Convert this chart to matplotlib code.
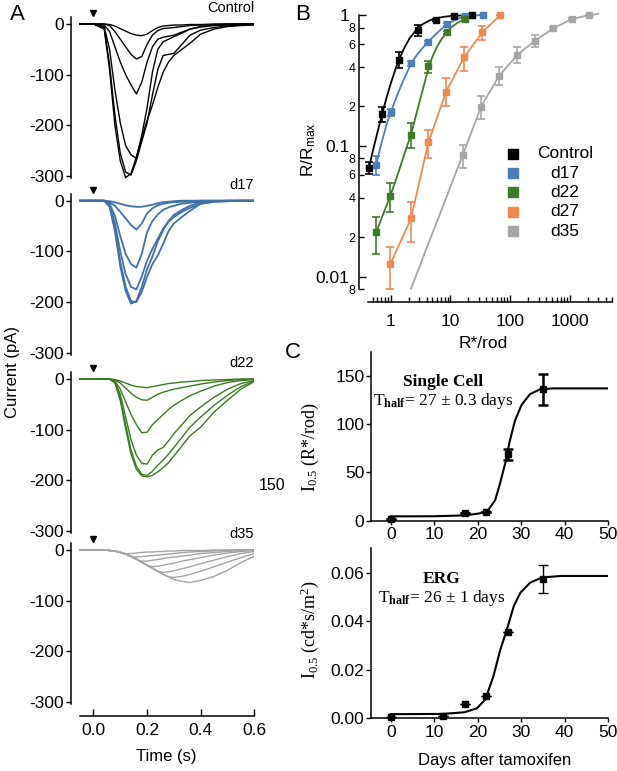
import matplotlib
matplotlib.use('Agg')
import matplotlib.pyplot as plt
from matplotlib.ticker import FixedLocator, FixedFormatter, NullFormatter

W, H = 617, 771

plt.rcParams['font.family'] = ['Liberation Sans', 'DejaVu Sans']
plt.rcParams['axes.unicode_minus'] = False
plt.rcParams['mathtext.fontset'] = 'custom'
plt.rcParams['mathtext.rm'] = 'Liberation Serif'
plt.rcParams['mathtext.it'] = 'Liberation Serif:italic'
plt.rcParams['mathtext.bf'] = 'Liberation Serif:bold'
plt.rcParams['mathtext.sf'] = 'Liberation Sans'

# ---- panel A: photocurrent traces (pA) ----
t_s = [-0.05, 0.00, 0.04, 0.06, 0.08, 0.10, 0.12, 0.14, 0.16, 0.18, 0.20, 0.22,
       0.24, 0.26, 0.28, 0.30, 0.33, 0.36, 0.40, 0.45, 0.50, 0.55, 0.60]

control_traces = [
    [0, 0, 0, -1, -4, -9, -14, -19, -22, -23, -20, -13, -7, -4, -3, -2, -2, -1, -1, 0, 0, 0, 0],
    [0, 0, 0, -3, -15, -30, -45, -60, -69, -64, -40, -22, -13, -9, -8, -7, -5, -3, -2, -1, 0, 0, 0],
    [0, 0, -2, -15, -45, -75, -100, -120, -138, -115, -75, -45, -30, -26, -24, -22, -16, -10, -6, -3, -2, -1, 0],
    [0, 0, -5, -50, -130, -195, -240, -258, -265, -220, -165, -95, -50, -35, -30, -25, -18, -10, -5, -2, -1, 0, 0],
    [0, 0, -8, -80, -180, -255, -292, -298, -270, -232, -195, -140, -90, -62, -60, -58, -40, -22, -12, -7, -4, -2, -1],
    [0, 0, -10, -90, -200, -270, -303, -295, -262, -225, -190, -160, -125, -95, -75, -62, -50, -38, -20, -10, -5, -3, -2],
]
d17_traces = [
    [0, 0, 0, -1, -3, -6, -9, -11, -12, -12, -10, -8, -5, -3, -2, -1, 0, 0, 0, 0, 0, 0, 0],
    [0, 0, 0, -3, -10, -22, -35, -48, -57, -45, -25, -15, -9, -6, -4, -3, -2, -1, 0, 0, 0, 0, 0],
    [0, 0, 0, -6, -30, -70, -105, -125, -132, -105, -62, -40, -27, -18, -13, -10, -6, -4, -2, -1, 0, 0, 0],
    [0, 0, 0, -8, -45, -100, -145, -170, -175, -150, -118, -95, -75, -55, -42, -32, -22, -14, -6, -2, -1, 0, 0],
    [0, 0, 0, -10, -55, -120, -170, -198, -200, -180, -150, -125, -108, -85, -60, -45, -32, -20, -6, -2, -1, 0, 0],
    [0, 0, 0, -12, -60, -130, -178, -203, -198, -170, -135, -110, -80, -58, -40, -28, -18, -10, -3, -1, 0, 0, 0],
]
d22_traces = [
    [0, 0, 0, 0, -1, -4, -8, -12, -15, -16, -17, -15, -13, -11, -9, -8, -6, -5, -3, -2, -1, 0, 0],
    [0, 0, 0, 0, -2, -8, -18, -28, -36, -41, -42, -36, -30, -26, -23, -20, -17, -14, -10, -6, -3, -1, 0],
    [0, 0, 0, 0, -4, -20, -45, -70, -90, -106, -105, -90, -80, -70, -60, -52, -42, -33, -24, -14, -7, -3, -1],
    [0, 0, 0, 0, -6, -30, -75, -120, -150, -166, -168, -150, -140, -135, -122, -108, -90, -72, -55, -36, -20, -9, -3],
    [0, 0, 0, 0, -7, -38, -90, -140, -172, -188, -190, -182, -170, -160, -148, -135, -115, -95, -75, -52, -32, -15, -4],
    [0, 0, 0, 0, -8, -42, -98, -148, -178, -191, -193, -190, -183, -175, -165, -152, -132, -112, -95, -65, -42, -20, -5],
]
d35_traces = [
    [0, 0, 0, -1, -2, -4, -7, -7, -6, -5, -4, -4, -3, -3, -2, -2, -1, -1, -1, 0, 0, 0, 0],
    [0, 0, 0, -1, -2, -5, -8, -12, -14, -13, -12, -11, -10, -9, -8, -7, -5, -4, -3, -2, -1, 0, 0],
    [0, 0, 0, -1, -2, -5, -8, -13, -18, -22, -22, -20, -19, -17, -15, -14, -12, -10, -7, -5, -3, -1, 0],
    [0, 0, 0, -1, -2, -5, -8, -13, -18, -24, -30, -33, -32, -30, -28, -26, -22, -19, -15, -10, -6, -3, -1],
    [0, 0, 0, -1, -2, -5, -8, -13, -18, -24, -30, -36, -42, -44, -43, -41, -37, -33, -27, -20, -13, -7, -3],
    [0, 0, 0, -1, -2, -5, -8, -13, -18, -24, -30, -36, -42, -48, -53, -54, -52, -48, -42, -33, -24, -15, -7],
    [0, 0, 0, -1, -2, -5, -8, -13, -18, -24, -30, -36, -42, -48, -53, -58, -62, -64, -60, -52, -40, -25, -12],
]
a_names = ["Control", "d17", "d22", "d35"]
a_ticks = [0, -100, -200, -300]

# ---- panel B: intensity-response, R/Rmax vs R*/rod ----
b_names = ["Control", "d17", "d22", "d27", "d35"]
b_x = [
    [0.43, 0.71, 1.39, 2.83, 5.74, 11.5, 23.3],
    [0.57, 1.0, 2.19, 4.26, 8.67, 17.6, 34.8],
    [0.57, 0.98, 2.19, 4.26, 8.67, 17.6],
    [0.98, 2.19, 4.26, 8.5, 16.9, 34.4, 68.0],
    [16.1, 32.6, 65.2, 132, 261, 530, 1075, 2122],
]
b_y = [
    [0.068, 0.175, 0.45, 0.77, 0.92, 0.99, 1.0],
    [0.071, 0.18, 0.427, 0.618, 0.85, 0.98, 1.0],
    [0.0218, 0.0413, 0.122, 0.407, 0.737, 0.93],
    [0.0124, 0.0279, 0.106, 0.26, 0.475, 0.737, 1.0],
    [0.085, 0.199, 0.342, 0.495, 0.637, 0.79, 0.93, 1.0],
]
b_err_lo = [
    [0.007, 0.022, 0.06, 0.08, 0.02, 0, 0],
    [0.011, 0.01, 0.02, 0.02, 0.02, 0, 0],
    [0.0069, 0.01, 0.026, 0.049, 0.02, 0],
    [0.0044, 0.0096, 0.026, 0.059, 0.10, 0.093, 0],
    [0.0177, 0.0395, 0.050, 0.063, 0.064, 0.02, 0.02, 0],
]
b_err_hi = [
    [0.0075, 0.022, 0.074, 0.069, 0.02, 0, 0],
    [0.012, 0.01, 0.02, 0.02, 0.02, 0, 0],
    [0.0066, 0.0104, 0.027, 0.038, 0.02, 0],
    [0.0044, 0.0091, 0.026, 0.068, 0.098, 0.087, 0],
    [0.0164, 0.0414, 0.060, 0.071, 0.066, 0.02, 0.02, 0],
]
fit_x = [
    [0.43, 0.5, 0.6, 0.71, 0.85, 1.0, 1.2, 1.39, 1.7, 2.1, 2.83, 3.5, 4.5, 5.74, 8.0, 11.5, 16.0, 23.3],
    [0.57, 0.65, 0.75, 0.87, 1.0, 1.2, 1.45, 1.75, 2.19, 2.7, 3.3, 4.26, 5.3, 6.8, 8.67, 11, 14, 17.6, 24, 34.8],
    [0.57, 0.7, 0.85, 0.98, 1.2, 1.5, 1.8, 2.19, 2.6, 3.1, 3.6, 4.26, 5.0, 6.0, 7.2, 8.67, 10.5, 13, 17.6],
    [0.98, 1.3, 1.7, 2.19, 2.7, 3.3, 4.26, 5.2, 6.5, 8.5, 11, 13.5, 16.9, 22, 28, 34.4, 45, 56, 68],
    [2.19, 3, 4.2, 6, 8.5, 12, 16.1, 22, 32.6, 45, 65.2, 90, 132, 185, 261, 370, 530, 750, 1075, 1500, 2122, 3000],
]
fit_y = [
    [0.0676, 0.0906, 0.127, 0.172, 0.233, 0.299, 0.385, 0.46, 0.565, 0.67, 0.791, 0.856, 0.909, 0.944, 0.971, 0.986, 0.993, 0.997],
    [0.071, 0.092, 0.118, 0.15, 0.18, 0.225, 0.28, 0.34, 0.425, 0.49, 0.55, 0.625, 0.69, 0.77, 0.84, 0.9, 0.945, 0.97, 0.99, 1.0],
    [0.0218, 0.0278, 0.0349, 0.0413, 0.0537, 0.0728, 0.094, 0.122, 0.165, 0.225, 0.29, 0.39, 0.48, 0.575, 0.66, 0.74, 0.81, 0.87, 0.93],
    [0.0124, 0.0165, 0.0215, 0.0279, 0.0424, 0.0633, 0.106, 0.137, 0.184, 0.26, 0.326, 0.39, 0.475, 0.56, 0.65, 0.737, 0.831, 0.918, 1.0],
    [0.0081, 0.01175, 0.0175, 0.0266, 0.0401, 0.0603, 0.085, 0.1237, 0.199, 0.256, 0.342, 0.405, 0.495, 0.561, 0.637, 0.708, 0.79, 0.856, 0.93, 0.965, 0.995, 1.02],
]

# ---- panel C: I0.5 vs days after tamoxifen ----
cell_days = [0, 17, 22, 27, 35]
cell_i05 = [1.7, 7.6, 9.3, 68.7, 136]
cell_err = [0, 0, 0, 6, 16]
cell_fit_days = [0, 10, 17, 20.5, 22.4, 24, 25.1, 26.3, 27.4, 28.6, 30.1, 32, 34.3, 37.4, 42, 50]
cell_fit_i05 = [4.5, 4.6, 5.5, 7.6, 11, 21, 38, 59, 83, 104, 120, 131, 136, 137, 137, 137]

erg_days = [0, 12, 17, 22, 27, 35]
erg_i05 = [0.0007, 0.001, 0.0058, 0.0092, 0.0356, 0.0575]
erg_err = [0, 0, 0, 0, 0, 0.0058]
erg_fit_days = [0, 12, 17, 19.8, 21.7, 23.6, 25.2, 26.7, 28.3, 29.8, 32.1, 34.8, 39, 50]
erg_fit_i05 = [0.0017, 0.0018, 0.0025, 0.0041, 0.0076, 0.0172, 0.0283, 0.0365, 0.0462, 0.0517, 0.0559, 0.058, 0.0586, 0.0586]

blue = '#3f70aa'
green = '#3c7a20'
orange = '#ef8a4e'
gray = '#a3a3a3'
a_colors = ['black', blue, green, gray]
b_colors = ['black', '#4a7ebb', '#3d7a26', orange, '#a5a5a5']

fig = plt.figure(figsize=(W / 100, H / 100), dpi=100)


def add_ax(x0, y0, x1, y1):
    # pixel box (top-left origin) -> figure fraction
    return fig.add_axes([x0 / W, 1 - y1 / H, (x1 - x0) / W, (y1 - y0) / H])


def ftext(x, y, s, **kw):
    kw.setdefault('ha', 'center')
    kw.setdefault('va', 'center')
    fig.text(x / W, 1 - y / H, s, **kw)


# panel A
zero_px = [24, 200.7, 379, 550]
px_per_pA = 0.507
all_traces = [control_traces, d17_traces, d22_traces, d35_traces]
for i in range(4):
    last = (i == 3)
    ybot = -327 if last else -310
    ax = add_ax(70.7, zero_px[i] - 15 * px_per_pA, 254.3, zero_px[i] - ybot * px_per_pA)
    lw = 1.3 if i == 1 else 1.0
    for tr in all_traces[i]:
        ax.plot(t_s, tr, color=a_colors[i], lw=lw)
    ax.set_xlim(-0.085, 0.6)
    ax.set_ylim(ybot, 15)
    for s in ['top', 'right']:
        ax.spines[s].set_visible(False)
    ax.spines['left'].set_linewidth(1.1)
    ax.spines['left'].set_bounds(-304, 14)
    ax.set_yticks(a_ticks)
    ax.set_yticklabels([str(v) for v in a_ticks])
    ax.tick_params(axis='y', direction='out', length=3.6, width=1.0, labelsize=12.5, pad=1)
    ax.plot([0], [22], 'v', color='black', ms=5, clip_on=False)
    ax.text(0.6, 31, a_names[i], ha='right', va='center', fontsize=10.5)
    if last:
        ax.spines['bottom'].set_linewidth(1.1)
        ax.spines['bottom'].set_bounds(-0.05, 0.6)
        ax.set_xticks([0, 0.2, 0.4, 0.6])
        ax.set_xticklabels(['0.0', '0.2', '0.4', '0.6'])
        ax.tick_params(axis='x', direction='in', length=5, width=1.0, labelsize=12.5, pad=5)
    else:
        ax.spines['bottom'].set_visible(False)
        ax.set_xticks([])

# panel B
axb = add_ax(359, 15, 611.7, 302.3)
axb.set_xscale('log')
axb.set_yscale('log')
for k in range(5):
    axb.plot(fit_x[k], fit_y[k], color=b_colors[k], lw=1.3, clip_on=False, zorder=2)
    eb = axb.errorbar(b_x[k], b_y[k], yerr=[b_err_lo[k], b_err_hi[k]], fmt='s', color=b_colors[k],
                      ms=5, capsize=3.2, elinewidth=1.2, capthick=1.2, zorder=3)
    for art in eb.get_children():
        art.set_clip_on(False)
axb.set_xlim(0.294, 5035)
axb.set_ylim(0.00636, 1.0)
for s in ['top', 'right']:
    axb.spines[s].set_visible(False)
axb.spines['left'].set_bounds(0.008, 1)
axb.spines['bottom'].set_bounds(0.42, 5035)
axb.spines['left'].set_linewidth(1.1)
axb.spines['bottom'].set_linewidth(1.1)
axb.xaxis.set_major_locator(FixedLocator([1, 10, 100, 1000]))
axb.xaxis.set_major_formatter(FixedFormatter(['1', '10', '100', '1000']))
xminor = [0.5, 0.6, 0.7, 0.8, 0.9] + [m * d for d in [1, 10, 100] for m in range(2, 10)] + [2000, 3000, 4000, 5000]
axb.xaxis.set_minor_locator(FixedLocator(xminor))
axb.xaxis.set_minor_formatter(NullFormatter())
axb.yaxis.set_major_locator(FixedLocator([0.01, 0.1, 1]))
axb.yaxis.set_major_formatter(FixedFormatter(['0.01', '0.1', '1']))
yminor = [0.008, 0.02, 0.04, 0.06, 0.08, 0.2, 0.4, 0.6, 0.8]
axb.yaxis.set_minor_locator(FixedLocator(yminor))
axb.yaxis.set_minor_formatter(FixedFormatter(['8', '2', '4', '6', '8', '2', '4', '6', '8']))
axb.tick_params(which='both', direction='in', width=1.0)
axb.tick_params(which='major', length=5)
axb.tick_params(which='minor', length=3.5)
axb.tick_params(axis='x', which='major', labelsize=12.5, pad=8.5)
axb.tick_params(axis='y', which='major', labelsize=12.5, pad=7)
axb.tick_params(axis='y', which='minor', labelsize=9, pad=2.5)

# legend drawn by hand (markers left, labels centred)
leg_y = [154, 173.3, 192.3, 211.7, 231]
for k in range(5):
    yy = (302.3 - leg_y[k]) / 287.3
    axb.plot([(513.3 - 359) / 252.7], [yy], 's', color=b_colors[k], ms=6.7,
             transform=axb.transAxes, clip_on=False)
    axb.text((565 - 359) / 252.7, yy, b_names[k], transform=axb.transAxes,
             ha='center', va='center', fontsize=12.5)

# panel C, single cell
axc1 = add_ax(370.7, 351.7, 608.2, 520.7)
axc1.plot(cell_fit_days, cell_fit_i05, color='black', lw=1.5)
eb = axc1.errorbar(cell_days, cell_i05, yerr=cell_err, fmt='s', color='black', ms=4.5,
                   capsize=3.5, elinewidth=1.8, capthick=1.8)
for art in eb.get_children():
    art.set_clip_on(False)
axc1.set_xlim(-4.6, 50)
axc1.set_ylim(0, 175)
axc1.set_yticks([0, 50, 100, 150])

# panel C, ERG
axc2 = add_ax(370.7, 548.3, 608.2, 718.3)
axc2.plot(erg_fit_days, erg_fit_i05, color='black', lw=1.5)
eb = axc2.errorbar(erg_days, erg_i05, yerr=erg_err, fmt='s', color='black', ms=4.5,
                   capsize=3.5, elinewidth=1.0, capthick=1.0)
for art in eb.get_children():
    art.set_clip_on(False)
axc2.set_xlim(-4.6, 50)
axc2.set_ylim(0, 0.07)
axc2.set_yticks([0, 0.02, 0.04, 0.06])
axc2.set_yticklabels(['0.00', '0.02', '0.04', '0.06'])

for ax in [axc1, axc2]:
    ax.set_xticks([0, 10, 20, 30, 40, 50])
    for s in ['top', 'right']:
        ax.spines[s].set_visible(False)
    ax.spines['left'].set_linewidth(1.1)
    ax.spines['bottom'].set_linewidth(1.1)
    ax.tick_params(axis='y', direction='out', length=3.6, width=1.0, labelsize=12.5, pad=1)
    ax.tick_params(axis='x', direction='out', length=3, width=1.0, labelsize=12.5, pad=1.5)

# texts
ftext(443, 381.7, 'Single Cell', family='Liberation Serif', weight='bold', fontsize=12.5)
ftext(443, 400.7, r'T$_{\mathbf{half}}$= 27 ± 0.3 days', family='Liberation Serif', fontsize=12.5)
ftext(441.7, 579, 'ERG', family='Liberation Serif', weight='bold', fontsize=12.5)
ftext(441.7, 598, r'T$_{\mathbf{half}}$= 26 ± 1 days', family='Liberation Serif', fontsize=12.5)
ftext(310, 447, r'I$_{0.5}$ (R*/rod)', family='Liberation Serif', fontsize=13, rotation=90)
ftext(310, 630, r'I$_{0.5}$ (cd*s/m$^{2}$)', family='Liberation Serif', fontsize=13, rotation=90)
ftext(309, 150, r'R/R$_{\mathsf{max}}$', fontsize=12.5, rotation=90)
ftext(483, 343, 'R*/rod', fontsize=12.5)
ftext(495, 760, 'Days after tamoxifen', fontsize=12)
ftext(166.7, 756, 'Time (s)', fontsize=12)
ftext(12, 372, 'Current (pA)', fontsize=12, rotation=90)
ftext(272, 486, '150', fontsize=11.5)
ftext(17, 14, 'A', fontsize=16)
ftext(303, 15, 'B', fontsize=16)
ftext(293, 353, 'C', fontsize=16)

fig.savefig('out.png', dpi=100)
